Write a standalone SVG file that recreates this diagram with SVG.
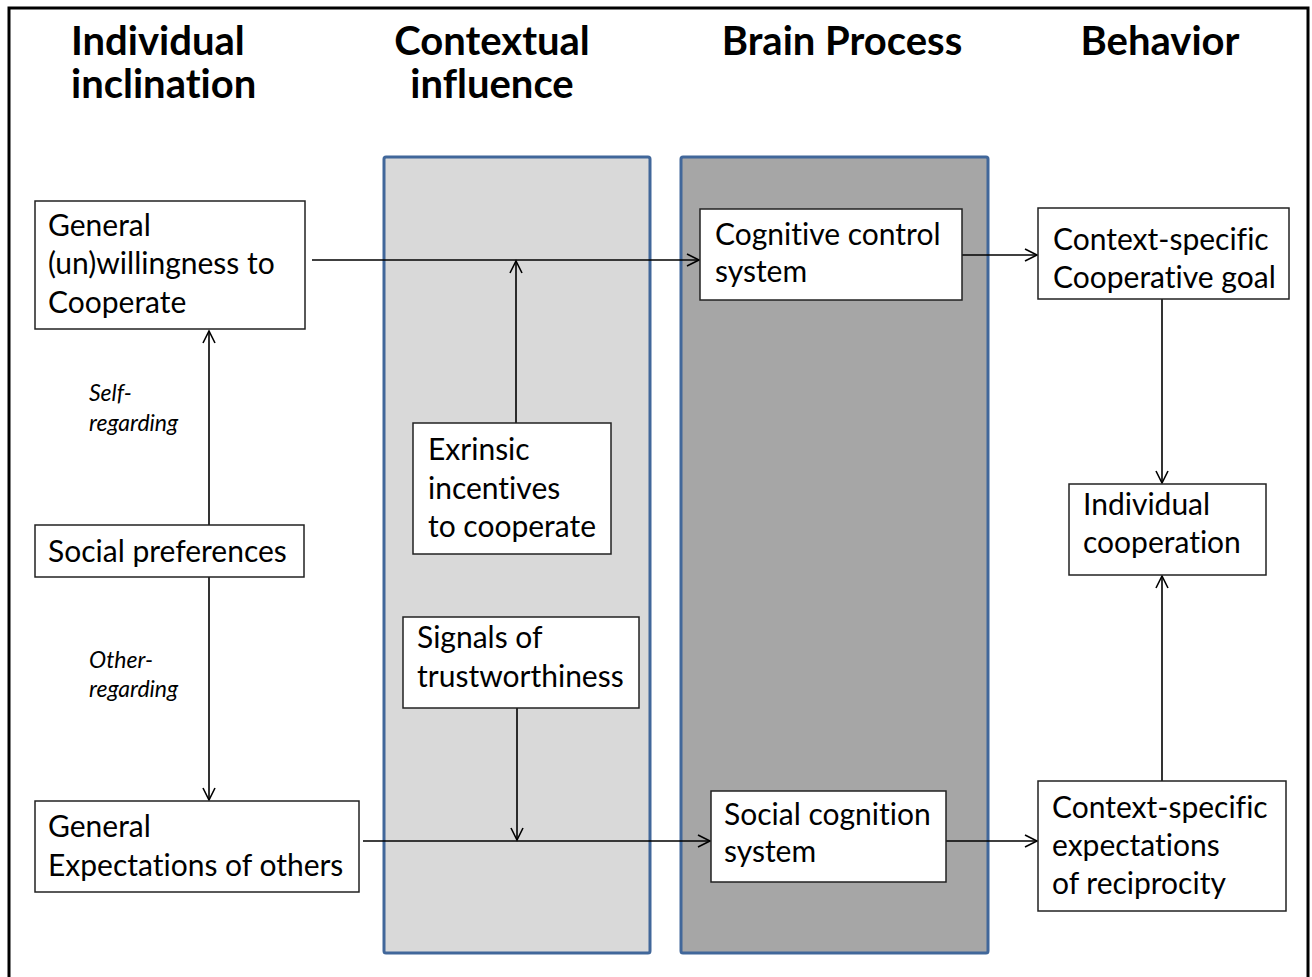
<svg xmlns="http://www.w3.org/2000/svg" width="1312" height="977" viewBox="0 0 1312 977">
<style>
text{font-variant-ligatures:none}
.hdr{font-family:Lato,"Open Sans","Liberation Sans",sans-serif;font-weight:bold;font-size:40px;fill:#000}
.t{font-family:Lato,"Open Sans","Liberation Sans",sans-serif;font-size:30px;fill:#000}
.it{font-family:Lato,"Open Sans","Liberation Sans",sans-serif;font-style:italic;font-size:23px;fill:#000}
.box{fill:#fff;stroke:#222;stroke-width:1.5}
.pan{stroke:#41679a;stroke-width:3}
.c{stroke:#000;stroke-width:1.6;fill:none;marker-end:url(#ah)}
</style>
<defs>
<marker id="ah" markerUnits="userSpaceOnUse" markerWidth="16" markerHeight="16" viewBox="0 0 16 16" refX="13" refY="7" orient="auto">
<path d="M1,1 L13,7 L1,13" fill="none" stroke="#000" stroke-width="1.6"/>
</marker>
</defs>
<rect x="0" y="0" width="1312" height="977" fill="#fff"/>
<rect x="9" y="8" width="1299" height="975" fill="none" stroke="#000" stroke-width="3"/>
<g id="headers">
<text class="hdr" x="71" y="55">Individual</text>
<text class="hdr" x="71" y="98">inclination</text>
<text class="hdr" x="492" y="55" text-anchor="middle">Contextual</text>
<text class="hdr" x="492" y="98" text-anchor="middle">influence</text>
<text class="hdr" x="842" y="55" text-anchor="middle">Brain Process</text>
<text class="hdr" x="1160" y="55" text-anchor="middle">Behavior</text>
</g>
<g id="panel-contextual"><rect class="pan" x="384" y="157" width="266" height="796" rx="2" fill="#d9d9d9"/></g>
<g id="panel-brain"><rect class="pan" x="681" y="157" width="307" height="796" rx="2" fill="#a6a6a6"/></g>
<g id="connectors">
<line class="c" x1="312" y1="260" x2="699" y2="260"/>
<line class="c" x1="516" y1="423" x2="516" y2="261"/>
<line class="c" x1="962" y1="255" x2="1037" y2="255"/>
<line class="c" x1="1162" y1="299" x2="1162" y2="483"/>
<line class="c" x1="209" y1="525" x2="209" y2="331"/>
<line class="c" x1="209" y1="577" x2="209" y2="800"/>
<line class="c" x1="517" y1="708" x2="517" y2="840"/>
<line class="c" x1="363" y1="841" x2="710" y2="841"/>
<line class="c" x1="946" y1="841" x2="1037" y2="841"/>
<line class="c" x1="1162" y1="781" x2="1162" y2="576"/>
<text class="it" x="89" y="401">Self-</text>
<text class="it" x="89" y="431">regarding</text>
<text class="it" x="89" y="668">Other-</text>
<text class="it" x="89" y="697">regarding</text>
</g>
<g id="n-willingness">
<rect class="box" x="35" y="201" width="270" height="128"/>
<text class="t" x="48" y="236">General</text>
<text class="t" x="48" y="274">(un)willingness to</text>
<text class="t" x="48" y="313">Cooperate</text>
</g>
<g id="n-social-pref">
<rect class="box" x="35" y="525" width="269" height="52"/>
<text class="t" x="48" y="562">Social preferences</text>
</g>
<g id="n-expectations">
<rect class="box" x="35" y="801" width="324" height="91"/>
<text class="t" x="48" y="837">General</text>
<text class="t" x="48" y="876">Expectations of others</text>
</g>
<g id="n-extrinsic">
<rect class="box" x="413" y="423" width="198" height="131"/>
<text class="t" x="428" y="460">Exrinsic</text>
<text class="t" x="428" y="499">incentives</text>
<text class="t" x="428" y="537">to cooperate</text>
</g>
<g id="n-signals">
<rect class="box" x="403" y="617" width="236" height="91"/>
<text class="t" x="417" y="648">Signals of</text>
<text class="t" x="417" y="687">trustworthiness</text>
</g>
<g id="n-cognitive">
<rect class="box" x="700" y="209" width="262" height="91"/>
<text class="t" x="715" y="245">Cognitive control</text>
<text class="t" x="715" y="282">system</text>
</g>
<g id="n-social-cog">
<rect class="box" x="711" y="791" width="235" height="91"/>
<text class="t" x="724" y="825">Social cognition</text>
<text class="t" x="724" y="862">system</text>
</g>
<g id="n-coop-goal">
<rect class="box" x="1038" y="208" width="251" height="91"/>
<text class="t" x="1053" y="250">Context-specific</text>
<text class="t" x="1053" y="288">Cooperative goal</text>
</g>
<g id="n-indiv-coop">
<rect class="box" x="1069" y="484" width="197" height="91"/>
<text class="t" x="1083" y="515">Individual</text>
<text class="t" x="1083" y="553">cooperation</text>
</g>
<g id="n-reciprocity">
<rect class="box" x="1038" y="781" width="248" height="130"/>
<text class="t" x="1052" y="818">Context-specific</text>
<text class="t" x="1052" y="856">expectations</text>
<text class="t" x="1052" y="894">of reciprocity</text>
</g>
</svg>
